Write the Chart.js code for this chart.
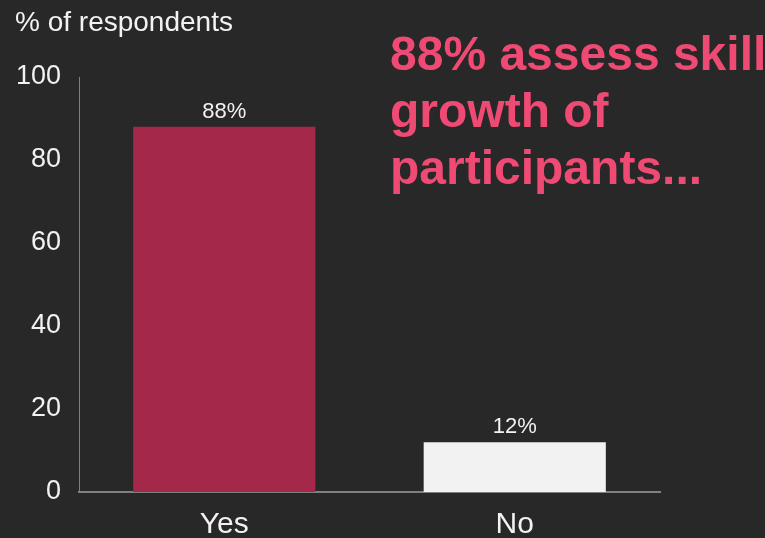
<!DOCTYPE html>
<html>
<head>
<meta charset="utf-8">
<script src="https://cdn.jsdelivr.net/npm/chart.js@4"></script>
<style>
  html, body { margin: 0; padding: 0; background: #282828; }
  #wrap { width: 765px; height: 538px; }
</style>
</head>
<body>
<div id="wrap"><canvas id="mainChart"></canvas></div>
<script>
const categories = ['Yes', 'No'];
const shares = [88, 12];
const barColors = ['#A4284A', '#F2F2F2'];
const yTicks = [0, 20, 40, 60, 80, 100];
const headline = ['88% assess skill', 'growth of', 'participants...'];
const axisTitle = '% of respondents';

const FONT = '"Liberation Sans", Arial, sans-serif';
const TEXT = '#F2F2F2';

// value labels above bars, plus the axis caption and headline
const overlay = {
    id: 'overlay',
    afterDatasetsDraw(chart) {
        const ctx = chart.ctx;
        const meta = chart.getDatasetMeta(0);
        ctx.save();
        ctx.fillStyle = TEXT;
        ctx.font = `22px ${FONT}`;
        ctx.textAlign = 'center';
        ctx.textBaseline = 'alphabetic';
        meta.data.forEach((bar, i) => {
            ctx.fillText(shares[i] + '%', bar.x, bar.y - 9);
        });

        ctx.textAlign = 'left';
        ctx.font = `28px ${FONT}`;
        ctx.fillText(axisTitle, 15, 31);

        ctx.fillStyle = '#EE4A73';
        ctx.font = `bold 48px ${FONT}`;
        headline.forEach((line, i) => {
            ctx.fillText(line, 390, 70 + i * 57);
        });
        ctx.restore();
    }
};

new Chart(document.getElementById('mainChart'), {
    type: 'bar',
    data: {
        labels: categories,
        datasets: [{
            data: shares,
            backgroundColor: barColors,
            borderWidth: 0,
            categoryPercentage: 1,
            barPercentage: 0.627
        }]
    },
    options: {
        responsive: true,
        maintainAspectRatio: false,
        animation: false,
        layout: { padding: { left: 0, top: 77, right: 105, bottom: 0 } },
        plugins: { legend: { display: false }, tooltip: { enabled: false } },
        scales: {
            x: {
                grid: { display: false, drawTicks: false },
                border: { color: '#808080', width: 2 },
                ticks: { color: TEXT, font: { family: FONT, size: 30 }, padding: 15 },
                afterFit: s => { s.height = 46; }
            },
            y: {
                min: 0,
                max: 100,
                afterBuildTicks: s => { s.ticks = yTicks.map(v => ({ value: v })); },
                grid: { display: false, drawTicks: false },
                border: { color: '#808080', width: 1 },
                ticks: { color: TEXT, font: { family: FONT, size: 27 }, padding: 18 },
                afterFit: s => { s.width = 79; }
            }
        }
    },
    plugins: [overlay]
});
</script>
</body>
</html>
